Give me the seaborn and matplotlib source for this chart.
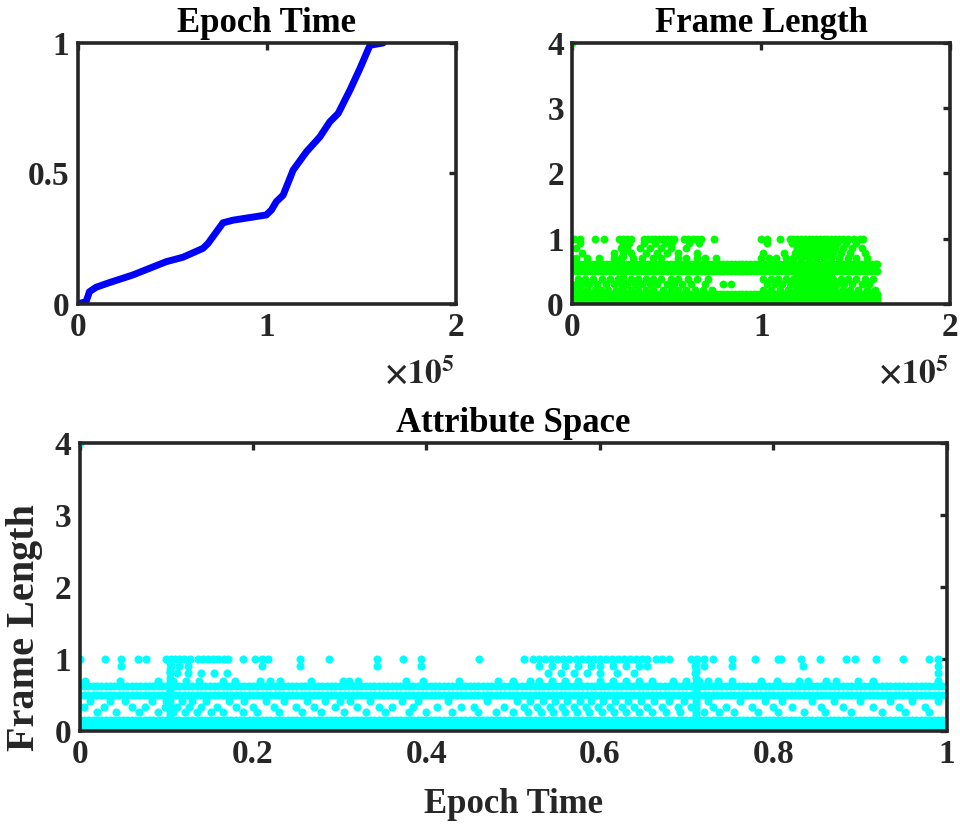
import matplotlib
matplotlib.use("Agg")
import matplotlib.pyplot as plt
import pandas as pd
import seaborn as sns

# ---------------- data ----------------
# Top-left: normalised epoch time vs. packet index
epoch_idx = [0, 4400, 6200, 9700, 16800, 29100, 46800, 55600, 66200, 68900, 76800, 82100,
             99700, 102400, 105000, 108600, 113900, 120900, 128000, 133300, 137700, 143900,
             149200, 154500, 161500]
epoch_val = [0.0, 0.009, 0.047, 0.064, 0.082, 0.111, 0.162, 0.179, 0.213, 0.232, 0.311, 0.321,
             0.341, 0.36, 0.392, 0.417, 0.513, 0.583, 0.640, 0.698, 0.730, 0.819,
             0.902, 0.991, 1.0]

# Frame-length levels that are densely populated (bottom band and two horizontal lines)
band_levels = [0.0, 0.04, 0.08, 0.12, 0.15]
line_levels = [0.50, 0.62]
outlier_x = [0]
outlier_y = [4.0]

# Top-right: dense packet indices (thousands)
fl_dense_k = [0, 2, 4, 6, 8, 10, 12, 14, 16, 18, 20, 22, 24, 26, 28, 30, 32, 34, 36, 38, 40,
              42, 44, 46, 48, 50, 52, 54, 56, 58, 60, 62, 64, 66, 68, 70, 72, 74, 76, 78, 80,
              82, 84, 86, 88, 90, 92, 94, 96, 98, 100, 102, 104, 106, 108, 110, 112, 114, 116,
              118, 120, 122, 124, 126, 128, 130, 132, 134, 136, 138, 140, 142, 144, 146, 148,
              150, 152, 154, 156, 158, 160, 161]
# Top-right sparse rows (x in thousands of packets)
fl_row_levels = [1.0, 0.94, 0.86, 0.78, 0.70, 0.38, 0.30, 0.22]
fl_row_x_k = [
    [0, 1, 4, 12, 17, 25, 27, 29, 31, 38, 40, 42, 44, 46, 48, 50, 52, 54, 59, 61, 64, 66, 68,
     75, 100, 103, 110, 115, 117, 119, 121, 123, 125, 127, 129, 131, 133, 135, 137, 139, 141,
     143, 146, 149, 152, 154],
    [4, 27, 30, 38, 44, 49, 53, 62, 67, 103, 116, 120, 124, 128, 132, 136, 140, 145, 150],
    [2, 26, 29, 36, 41, 47, 52, 60, 119, 123, 127, 131, 135, 139, 143, 148, 153],
    [5, 22, 27, 31, 39, 45, 50, 56, 66, 101, 112, 118, 122, 126, 130, 134, 138, 142, 147, 155],
    [2, 8, 14, 22, 26, 32, 37, 43, 47, 56, 60, 66, 70, 76, 100, 104, 108, 113, 117, 121, 125,
     129, 133, 137, 141, 146, 150, 156],
    [3, 7, 11, 16, 20, 24, 27, 31, 35, 39, 43, 47, 52, 56, 61, 66, 72, 101, 105, 109, 113, 117,
     120, 123, 126, 129, 132, 135, 138, 142, 146, 150, 155, 159],
    [2, 5, 9, 13, 18, 22, 26, 29, 33, 37, 41, 45, 50, 54, 58, 63, 70, 80, 84, 103, 107, 111,
     115, 119, 122, 125, 128, 131, 134, 137, 140, 144, 148, 153, 157],
    [1, 4, 8, 12, 15, 19, 23, 27, 31, 35, 39, 43, 48, 52, 56, 60, 65, 69, 74, 101, 105, 110,
     114, 118, 121, 124, 127, 130, 133, 136, 139, 143, 147, 151, 156, 160],
]
fl_cluster_x_k = [27, 119, 122, 125, 128, 131, 134, 137]
fl_cluster_y = [0.26, 0.34, 0.42, 0.74, 0.82, 0.90, 0.97]

# Bottom: dense epoch-time positions (thousandths)
as_dense_m = [0, 5, 10, 15, 20, 25, 30, 35, 40, 45, 50, 55, 60, 65, 70, 75, 80, 85, 90, 95,
              100, 105, 110, 115, 120, 125, 130, 135, 140, 145, 150, 155, 160, 165, 170, 175,
              180, 185, 190, 195, 200, 205, 210, 215, 220, 225, 230, 235, 240, 245, 250, 255,
              260, 265, 270, 275, 280, 285, 290, 295, 300, 305, 310, 315, 320, 325, 330, 335,
              340, 345, 350, 355, 360, 365, 370, 375, 380, 385, 390, 395, 400, 405, 410, 415,
              420, 425, 430, 435, 440, 445, 450, 455, 460, 465, 470, 475, 480, 485, 490, 495,
              500, 505, 510, 515, 520, 525, 530, 535, 540, 545, 550, 555, 560, 565, 570, 575,
              580, 585, 590, 595, 600, 605, 610, 615, 620, 625, 630, 635, 640, 645, 650, 655,
              660, 665, 670, 675, 680, 685, 690, 695, 700, 705, 710, 715, 720, 725, 730, 735,
              740, 745, 750, 755, 760, 765, 770, 775, 780, 785, 790, 795, 800, 805, 810, 815,
              820, 825, 830, 835, 840, 845, 850, 855, 860, 865, 870, 875, 880, 885, 890, 895,
              900, 905, 910, 915, 920, 925, 930, 935, 940, 945, 950, 955, 960, 965, 970, 975,
              980, 985, 990, 995, 1000]
as_row_levels = [1.0, 0.9, 0.8, 0.7, 0.42, 0.34, 0.27]
as_row_x = [
    [0.0, 0.029, 0.048, 0.067, 0.077, 0.10, 0.105, 0.11, 0.115, 0.12, 0.127, 0.136, 0.142,
     0.148, 0.154, 0.16, 0.166, 0.171, 0.188, 0.202, 0.21, 0.217, 0.254, 0.288, 0.343, 0.373,
     0.394, 0.461, 0.513, 0.523, 0.53, 0.537, 0.544, 0.551, 0.558, 0.565, 0.572, 0.579, 0.586,
     0.593, 0.6, 0.607, 0.614, 0.621, 0.628, 0.635, 0.642, 0.649, 0.654, 0.665, 0.672, 0.68,
     0.705, 0.712, 0.72, 0.73, 0.752, 0.779, 0.805, 0.809, 0.832, 0.854, 0.884, 0.894, 0.919,
     0.95, 0.98, 0.99],
    [0.048, 0.105, 0.115, 0.125, 0.21, 0.254, 0.343, 0.394, 0.53, 0.545, 0.56, 0.575, 0.59,
     0.6, 0.615, 0.63, 0.645, 0.654, 0.71, 0.72, 0.752, 0.834, 0.99],
    [0.104, 0.112, 0.125, 0.14, 0.155, 0.17, 0.54, 0.555, 0.57, 0.585, 0.6, 0.62, 0.64, 0.71,
     0.99],
    [0.006, 0.046, 0.09, 0.104, 0.108, 0.123, 0.138, 0.165, 0.179, 0.208, 0.219, 0.231, 0.267,
     0.304, 0.311, 0.321, 0.377, 0.396, 0.438, 0.482, 0.5, 0.519, 0.53, 0.545, 0.56, 0.575,
     0.6, 0.615, 0.63, 0.645, 0.66, 0.684, 0.7, 0.715, 0.725, 0.736, 0.752, 0.786, 0.804, 0.83,
     0.84, 0.861, 0.873, 0.898, 0.915, 0.99],
    [0.012, 0.035, 0.052, 0.083, 0.1, 0.104, 0.118, 0.13, 0.146, 0.172, 0.19, 0.215, 0.236,
     0.262, 0.283, 0.3, 0.312, 0.335, 0.372, 0.39, 0.425, 0.47, 0.505, 0.52, 0.535, 0.548,
     0.562, 0.577, 0.59, 0.604, 0.618, 0.633, 0.648, 0.662, 0.68, 0.697, 0.711, 0.725, 0.762,
     0.79, 0.81, 0.845, 0.87, 0.9, 0.935, 0.96, 0.99],
    [0.005, 0.028, 0.06, 0.075, 0.098, 0.104, 0.112, 0.126, 0.14, 0.158, 0.18, 0.2, 0.224,
     0.25, 0.27, 0.295, 0.32, 0.345, 0.36, 0.385, 0.412, 0.44, 0.455, 0.49, 0.512, 0.528,
     0.542, 0.556, 0.57, 0.584, 0.598, 0.612, 0.626, 0.64, 0.655, 0.672, 0.69, 0.705, 0.711,
     0.73, 0.745, 0.775, 0.8, 0.822, 0.855, 0.88, 0.915, 0.945, 0.975],
    [0.02, 0.042, 0.068, 0.09, 0.104, 0.108, 0.122, 0.135, 0.152, 0.165, 0.188, 0.205, 0.23,
     0.256, 0.278, 0.305, 0.33, 0.352, 0.38, 0.4, 0.43, 0.46, 0.48, 0.5, 0.517, 0.532, 0.546,
     0.56, 0.574, 0.588, 0.602, 0.616, 0.63, 0.645, 0.66, 0.676, 0.693, 0.711, 0.72, 0.738,
     0.755, 0.782, 0.805, 0.835, 0.86, 0.89, 0.925, 0.952, 0.98],
]
as_cluster_x = [0.104, 0.711]
as_cluster_y = [0.22, 0.3, 0.38, 0.46, 0.56, 0.66, 0.74, 0.82, 0.86, 0.94]

top_xticks = [0, 100000, 200000]
top_xticklabels = ["0", "1", "2"]
epoch_yticks = [0, 0.5, 1]
epoch_yticklabels = ["0", "0.5", "1"]
fl_yticks = [0, 1, 2, 3, 4]
fl_yticklabels = ["0", "1", "2", "3", "4"]
as_xticks = [0, 0.2, 0.4, 0.6, 0.8, 1.0]
as_xticklabels = ["0", "0.2", "0.4", "0.6", "0.8", "1"]


def build_frame(dense_x, dense_scale, row_x, row_levels, row_scale, cl_x, cl_y):
    """Assemble one long table from the small lists above (unit conversion only)."""
    xs, ys = [], []
    for lv in band_levels + line_levels:
        xs += [v * dense_scale for v in dense_x]
        ys += [lv] * len(dense_x)
    for xl, lv in zip(row_x, row_levels):
        xs += [v * row_scale for v in xl]
        ys += [lv] * len(xl)
    for cx in cl_x:
        for cy in cl_y:
            xs.append(cx * row_scale)
            ys.append(cy)
    xs += list(outlier_x)
    ys += list(outlier_y)
    return pd.DataFrame({"x": xs, "y": ys})


df_epoch = pd.DataFrame({"idx": epoch_idx, "t": epoch_val})
df_fl = build_frame(fl_dense_k, 1000, fl_row_x_k, fl_row_levels, 1000,
                    fl_cluster_x_k, fl_cluster_y)
df_as = build_frame(as_dense_m, 0.001, as_row_x, as_row_levels, 1.0,
                    as_cluster_x, as_cluster_y)

# ---------------- style ----------------
sns.set_theme(style="white")
plt.rcParams["font.family"] = ["Liberation Serif", "DejaVu Serif"]
plt.rcParams["font.weight"] = "bold"
plt.rcParams["mathtext.fontset"] = "stix"

DARK = "#262626"
TICK_FS = 24
TITLE_FS = 25

fig = plt.figure(figsize=(9.6, 8.26), dpi=100)
ax1 = fig.add_axes([0.081, 0.632, 0.394, 0.316])
ax2 = fig.add_axes([0.596, 0.632, 0.394, 0.316])
ax3 = fig.add_axes([0.083, 0.115, 0.903, 0.349])


def style(ax):
    for s in ax.spines.values():
        s.set_visible(True)
        s.set_linewidth(2.6)
        s.set_color(DARK)
    ax.tick_params(direction="in", length=5, width=2.4, top=True, right=True,
                   labelsize=TICK_FS, pad=6, colors=DARK)
    for lab in ax.get_xticklabels() + ax.get_yticklabels():
        lab.set_fontweight("bold")
    ax.grid(False)


sns.lineplot(data=df_epoch, x="idx", y="t", color="#0000ff", linewidth=5.0, ax=ax1)
ax1.set_xlim(0, 200000)
ax1.set_ylim(0, 1)
ax1.set_xticks(top_xticks)
ax1.set_xticklabels(top_xticklabels)
ax1.set_yticks(epoch_yticks)
ax1.set_yticklabels(epoch_yticklabels)

sns.scatterplot(data=df_fl, x="x", y="y", color="#00ff00", s=32, linewidth=0, ax=ax2)
ax2.set_xlim(0, 200000)
ax2.set_ylim(0, 4)
ax2.set_xticks(top_xticks)
ax2.set_xticklabels(top_xticklabels)
ax2.set_yticks(fl_yticks)
ax2.set_yticklabels(fl_yticklabels)

sns.scatterplot(data=df_as, x="x", y="y", color="#00ffff", s=34, linewidth=0, ax=ax3)
ax3.set_xlim(0, 1)
ax3.set_ylim(0, 4)
ax3.set_xticks(as_xticks)
ax3.set_xticklabels(as_xticklabels)
ax3.set_yticks(fl_yticks)
ax3.set_yticklabels(fl_yticklabels)

for ax, title in [(ax1, "Epoch Time"), (ax2, "Frame Length"), (ax3, "Attribute Space")]:
    style(ax)
    ax.set_title(title, fontsize=TITLE_FS, fontweight="bold", pad=8, color="black")
    ax.set_xlabel("")
    ax.set_ylabel("")

for ax in (ax1, ax2):
    ax.text(0.995, -0.205, r"$\times10^{5}$", transform=ax.transAxes, ha="right", va="top",
            fontsize=24, color=DARK)

ax3.set_xlabel("Epoch Time", fontsize=TITLE_FS, fontweight="bold", color=DARK, labelpad=13)
ax3.set_ylabel("Frame Length", fontsize=29, fontweight="bold", color=DARK)
ax3.yaxis.set_label_coords(-0.042, 0.36)

fig.savefig("out.png", dpi=100)
